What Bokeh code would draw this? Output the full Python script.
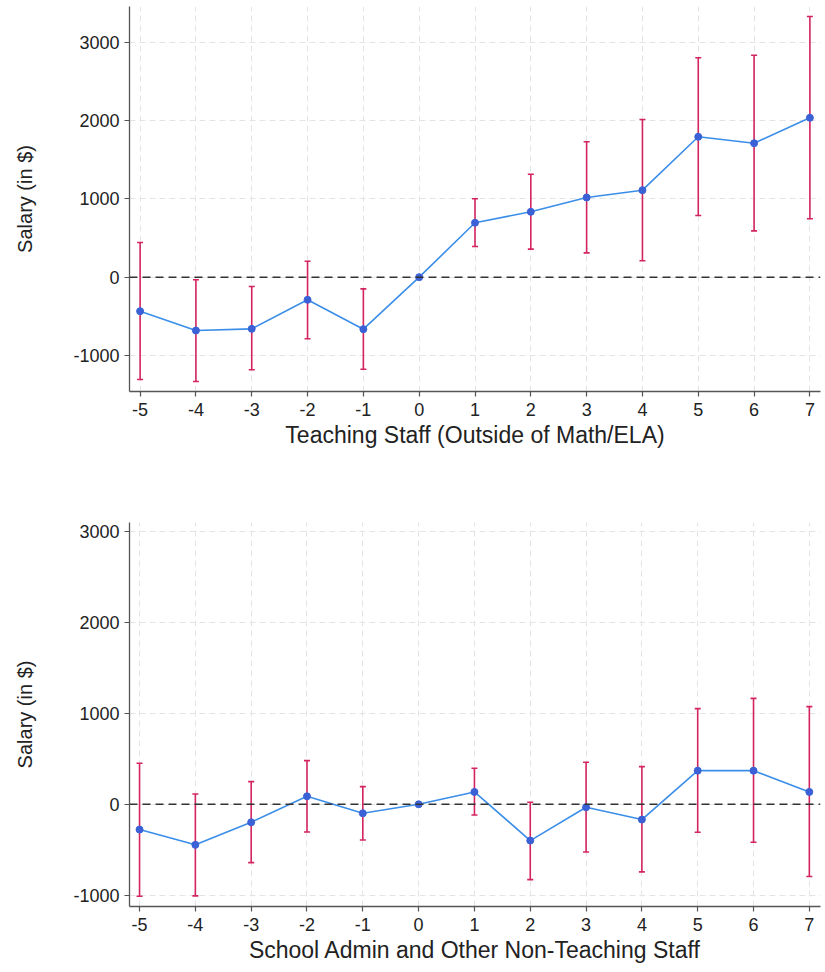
from bokeh.plotting import figure
from bokeh.layouts import column
from bokeh.models import (ColumnDataSource, Whisker, Span, FixedTicker, Range1d, TeeHead,
                          PrintfTickFormatter)
from bokeh.embed import file_html
from bokeh.resources import INLINE

periods = [-5, -4, -3, -2, -1, 0, 1, 2, 3, 4, 5, 6, 7]

teach_est = [-434, -681, -660, -289, -664, 0, 695, 835, 1018, 1111, 1793, 1711, 2036]
teach_hi = [443, -33, -119, 204, -149, 0, 1001, 1315, 1729, 2014, 2802, 2835, 3330]
teach_lo = [-1307, -1332, -1183, -787, -1175, 0, 392, 358, 311, 209, 788, 592, 746]

admin_est = [-278, -446, -198, 88, -99, 0, 136, -399, -33, -168, 370, 370, 136]
admin_hi = [451, 114, 249, 480, 194, 0, 396, 22, 462, 414, 1052, 1165, 1074]
admin_lo = [-1011, -1007, -641, -304, -392, 0, -117, -828, -524, -743, -308, -418, -794]

y_ticks = [-1000, 0, 1000, 2000, 3000]
x_label_top = "Teaching Staff (Outside of Math/ELA)"
x_label_bottom = "School Admin and Other Non-Teaching Staff"
y_label = "Salary (in $)"

FONT = "Liberation Sans"
TXT = "#222222"


def make_panel(est, lo, hi, xlabel, height, yr, xr, bt, bb, bl, br):
    p = figure(width=825, height=height, output_backend="svg", toolbar_location=None,
               x_range=Range1d(*xr), y_range=Range1d(*yr),
               min_border_top=bt, min_border_bottom=bb, min_border_left=bl, min_border_right=br)
    p.outline_line_color = None
    src = ColumnDataSource(dict(x=periods, y=est, lo=lo, hi=hi))

    p.add_layout(Span(location=0, dimension="width", line_color="#333333",
                      line_width=1.6, line_dash="8 5"))

    w = Whisker(base="x", lower="lo", upper="hi", source=src,
                line_color="#d3245f", line_width=1.6,
                lower_head=TeeHead(size=6, line_color="#d3245f", line_width=1.6),
                upper_head=TeeHead(size=6, line_color="#d3245f", line_width=1.6))
    p.add_layout(w)

    p.line("x", "y", source=src, line_color="#3b8ee8", line_width=1.6)
    p.scatter("x", "y", source=src, size=7, fill_color="#3a62d6", line_color="#3a62d6")

    p.xaxis.ticker = FixedTicker(ticks=periods)
    p.yaxis.ticker = FixedTicker(ticks=y_ticks)
    p.xaxis.formatter = PrintfTickFormatter(format="%d")
    p.yaxis.formatter = PrintfTickFormatter(format="%d")
    for ax in (p.xaxis[0], p.yaxis[0]):
        ax.axis_line_color = "#555555"
        ax.axis_line_width = 1.3
        ax.major_tick_line_color = "#555555"
        ax.major_tick_line_width = 1.2
        ax.major_tick_out = 5
        ax.major_tick_in = 0
        ax.minor_tick_line_color = None
        ax.major_label_text_font = FONT
        ax.major_label_text_font_size = "18px"
        ax.major_label_text_color = TXT
        ax.axis_label_text_font = FONT
        ax.axis_label_text_font_style = "normal"
        ax.axis_label_text_color = TXT
    p.xaxis.axis_label = xlabel
    p.xaxis.axis_label_text_font_size = "23px"
    p.xaxis.axis_label_standoff = 3
    p.xaxis.major_label_standoff = 6
    p.yaxis.axis_label = y_label
    p.yaxis.axis_label_text_font_size = "20px"
    p.yaxis.axis_label_standoff = 34
    p.yaxis.major_label_standoff = 5

    for g in (p.xgrid[0], p.ygrid[0]):
        g.grid_line_color = "#e4e4e4"
        g.grid_line_width = 1
        g.grid_line_dash = "6 4"
    return p


top = make_panel(teach_est, teach_lo, teach_hi, x_label_top, 460,
                 (-1460, 3457), (-5.19, 7.19), 6, 69, 126, 5)
bottom = make_panel(admin_est, admin_lo, admin_hi, x_label_bottom, 512,
                    (-1124, 3099), (-5.18, 7.2), 62, 66, 129, 2)

layout = column(top, bottom, spacing=0)
open("out.html", "w").write(file_html(layout, INLINE))
